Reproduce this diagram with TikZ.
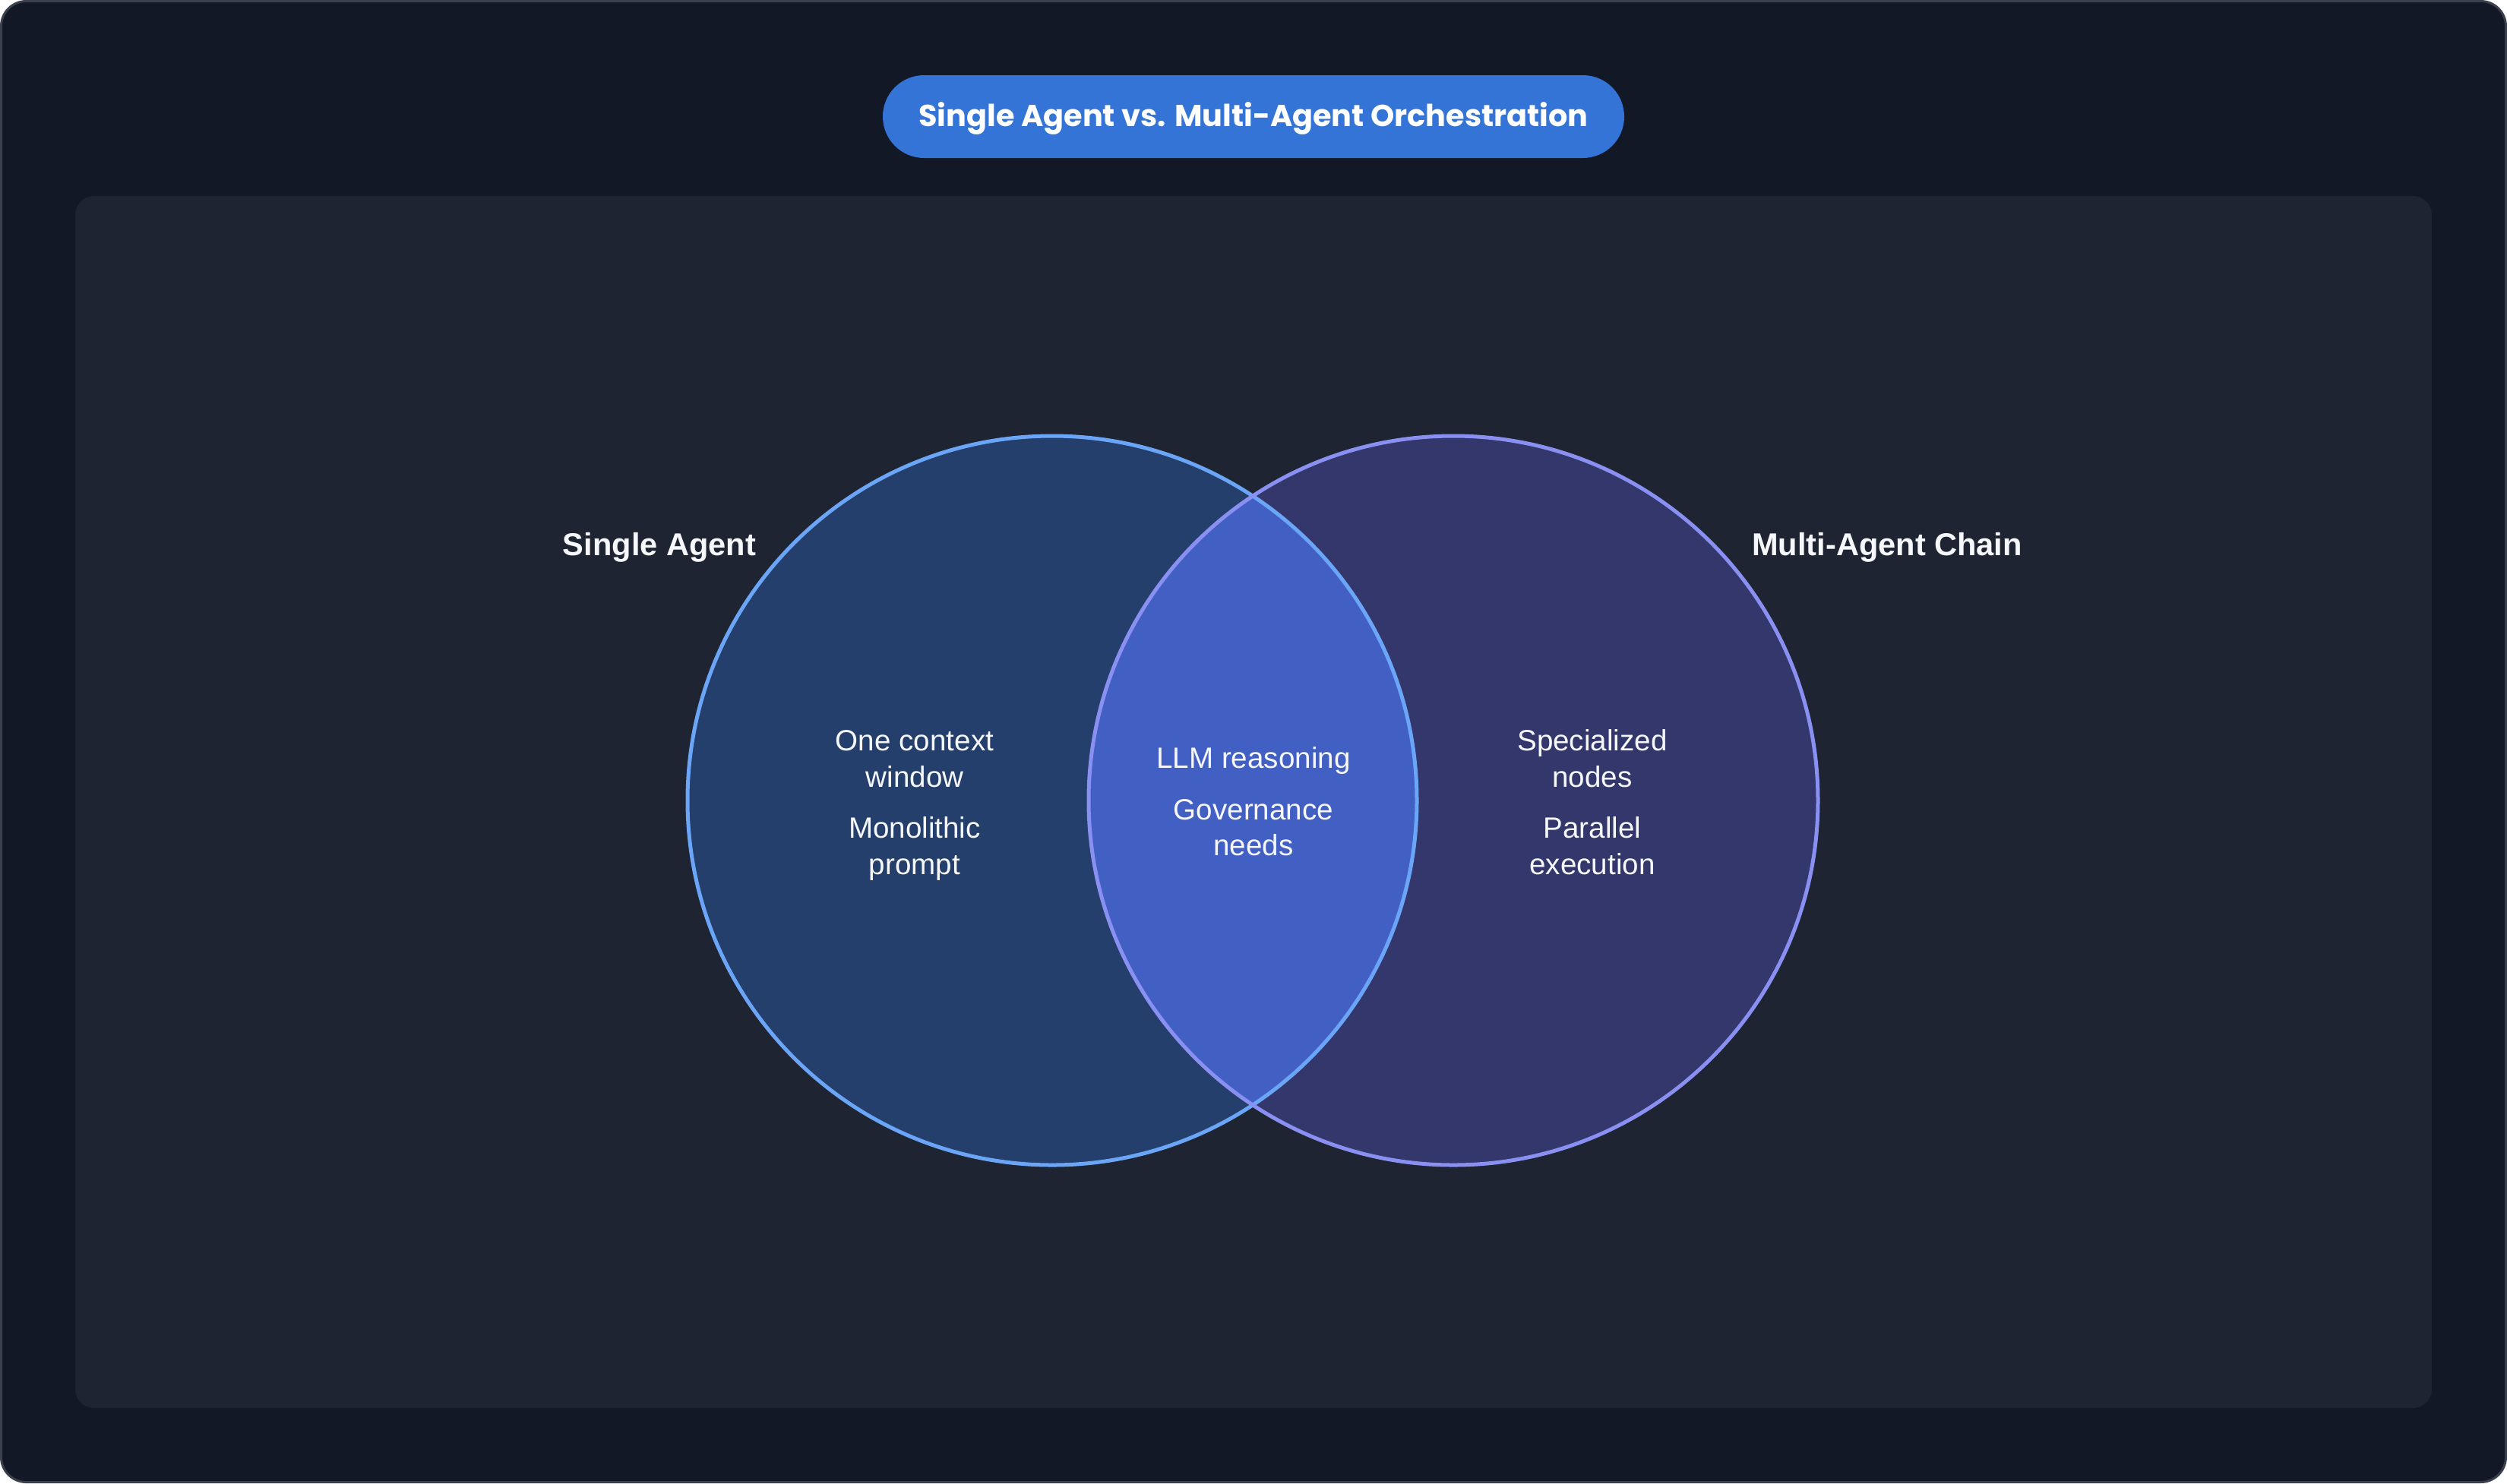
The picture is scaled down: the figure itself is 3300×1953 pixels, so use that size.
\documentclass[tikz,border=0pt]{standalone}
\usepackage{fontspec}
\setmainfont{Liberation Sans}
\newfontfamily\titlefont{Poppins}
\definecolor{outerbg}{HTML}{121826}
\definecolor{outerbd}{HTML}{3A414D}
\definecolor{panelbg}{HTML}{1F2432}
\definecolor{pillbg}{HTML}{3374D6}
\definecolor{leftfill}{HTML}{243F6B}
\definecolor{leftline}{HTML}{6AA5F7}
\definecolor{rightfill}{HTML}{33376B}
\definecolor{rightline}{HTML}{8A8FF2}
\definecolor{midfill}{HTML}{425FC4}
\definecolor{txt}{HTML}{F5F7FA}
\begin{document}
\begin{tikzpicture}[x=0.25pt,y=-0.25pt,
  body/.style={text=txt, align=center, inner sep=0pt, anchor=base,
    font=\fontsize{9.65pt}{11.9pt}\selectfont},
  setlabel/.style={text=txt, inner sep=0pt, anchor=base,
    font=\fontsize{10.4pt}{12.5pt}\selectfont\bfseries},
  titletext/.style={text=white, inner sep=0pt, anchor=base,
    font=\titlefont\fontsize{9.95pt}{12pt}\selectfont\bfseries}]
\useasboundingbox (0,0) rectangle (3300,1953);
% outer background
\fill[outerbg, draw=outerbd, line width=0.75pt, rounded corners=8.25pt]
  (1.5,1.5) rectangle (3298.5,1951.5);
% inner panel
\fill[panelbg, rounded corners=6.25pt] (99,258) rectangle (3201,1854);
% title pill
\fill[pillbg, rounded corners=13.6pt] (1162,99) rectangle (2138,208);
\node[titletext] (title) at (1650,166) {Single Agent vs. Multi-Agent Orchestration};
% circles
\coordinate (cl) at (1385,1054);
\coordinate (cr) at (1913,1054);
\fill[leftfill] (cl) circle [radius=120pt];
\fill[rightfill] (cr) circle [radius=120pt];
\begin{scope}
  \clip (cl) circle [radius=120pt];
  \fill[midfill] (cr) circle [radius=120pt];
\end{scope}
\draw[leftline, line width=1.25pt] (cl) circle [radius=120pt];
\draw[rightline, line width=1.25pt] (cr) circle [radius=120pt];
% labels (multi-line nodes: base = baseline of last line)
\node[setlabel] (sa) at (868,731) {Single Agent};
\node[setlabel] (ma) at (2484,731) {Multi-Agent Chain};
\node[body] (l1) at (1204,1036) {One context\\window};
\node[body] (l2) at (1204,1151) {Monolithic\\prompt};
\node[body] (c1) at (1650,1011.7) {LLM reasoning};
\node[body] (c2) at (1650,1126.7) {Governance\\needs};
\node[body] (r1) at (2096,1036) {Specialized\\nodes};
\node[body] (r2) at (2096,1151) {Parallel\\execution};
\end{tikzpicture}
\end{document}
